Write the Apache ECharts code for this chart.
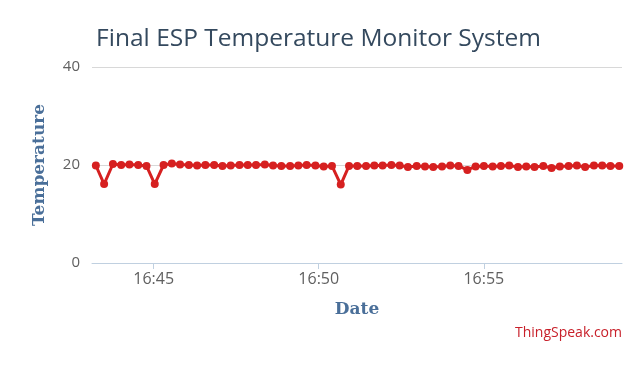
<!DOCTYPE html>
<html>
<head>
<meta charset="utf-8">
<script src="https://cdn.jsdelivr.net/npm/echarts@6/dist/echarts.min.js"></script>
<style>
  html, body { margin: 0; padding: 0; background: #fff; }
  #chart { width: 637px; height: 365px; }
</style>
</head>
<body>
<div id="chart"></div>
<script>
// readings (time of day, temperature)
var times = [
  '16:43:15', '16:43:30', '16:43:46', '16:44:01', '16:44:16', '16:44:32', '16:44:47', '16:45:02',
  '16:45:18', '16:45:33', '16:45:48', '16:46:04', '16:46:19', '16:46:34', '16:46:50', '16:47:05',
  '16:47:20', '16:47:36', '16:47:51', '16:48:06', '16:48:22', '16:48:37', '16:48:52', '16:49:08',
  '16:49:23', '16:49:38', '16:49:54', '16:50:09', '16:50:24', '16:50:40', '16:50:55', '16:51:10',
  '16:51:26', '16:51:41', '16:51:56', '16:52:12', '16:52:27', '16:52:42', '16:52:58', '16:53:13',
  '16:53:28', '16:53:44', '16:53:59', '16:54:14', '16:54:30', '16:54:45', '16:55:00', '16:55:16',
  '16:55:31', '16:55:46', '16:56:02', '16:56:17', '16:56:32', '16:56:48', '16:57:03', '16:57:18',
  '16:57:34', '16:57:49', '16:58:04', '16:58:20', '16:58:35', '16:58:50', '16:59:06'
];
var temps = [
  19.9, 16.1, 20.2, 20.0, 20.1, 20.0, 19.8, 16.1,
  20.0, 20.3, 20.1, 20.0, 19.9, 20.0, 20.0, 19.8,
  19.9, 20.0, 20.0, 20.0, 20.1, 19.9, 19.8, 19.8,
  19.9, 20.0, 19.9, 19.7, 19.8, 16.0, 19.8, 19.8,
  19.8, 19.9, 19.9, 20.0, 19.9, 19.6, 19.8, 19.7,
  19.6, 19.7, 19.9, 19.8, 19.0, 19.7, 19.8, 19.7,
  19.8, 19.9, 19.6, 19.7, 19.6, 19.8, 19.4, 19.7,
  19.8, 19.9, 19.6, 19.9, 19.9, 19.8, 19.8
];
var xStart = '16:43:08';
var xEnd = '16:59:11';
var xTicks = ['16:45:00', '16:50:00', '16:55:00'];
var yTicks = [0, 20, 40];

function toDate(t) {
  var p = t.split(':');
  return new Date(2018, 0, 1, +p[0], +p[1], +p[2]).getTime();
}

var points = times.map(function (t, i) { return [toDate(t), temps[i]]; });
var tickValues = xTicks.map(toDate);

var myChart = echarts.init(document.getElementById('chart'));
var option = {
  animation: false,
  backgroundColor: '#fff',
  title: {
    text: 'Final ESP Temperature Monitor System',
    left: 'center',
    top: 22,
    textStyle: {
      color: '#34495e',
      fontFamily: 'Open Sans',
      fontWeight: 'normal',
      fontSize: 24.5
    }
  },
  graphic: [{
    type: 'text',
    right: 15,
    top: 326,
    style: {
      text: 'ThingSpeak.com',
      fill: '#c8202a',
      font: '14px "Open Sans"'
    }
  }],
  grid: {
    left: 92,
    right: 15,
    top: 67,
    bottom: 102
  },
  xAxis: {
    type: 'value',
    min: toDate(xStart),
    max: toDate(xEnd),
    name: 'Date',
    nameLocation: 'middle',
    nameGap: 38,
    nameTextStyle: {
      color: '#4a6f99',
      fontFamily: 'DejaVu Serif',
      fontWeight: 'bold',
      fontSize: 17
    },
    axisLine: { lineStyle: { color: '#c0d0e0', width: 1 } },
    axisTick: { show: true, length: 6, customValues: tickValues, lineStyle: { color: '#c0d0e0' } },
    splitLine: { show: false },
    axisLabel: {
      color: '#606060',
      fontFamily: 'Open Sans',
      fontSize: 16,
      margin: 8,
      customValues: tickValues,
      formatter: function (v) { return echarts.time.format(v, '{HH}:{mm}', false); }
    }
  },
  yAxis: {
    type: 'value',
    min: yTicks[0],
    max: yTicks[yTicks.length - 1],
    interval: yTicks[1] - yTicks[0],
    name: 'Temperature',
    nameLocation: 'middle',
    nameGap: 44,
    nameRotate: 90,
    nameTextStyle: {
      color: '#4a6f99',
      fontFamily: 'DejaVu Serif',
      fontWeight: 'bold',
      fontSize: 17
    },
    axisLine: { show: false },
    axisTick: { show: false },
    splitLine: { lineStyle: { color: '#d8d8d8', width: 1 } },
    axisLabel: {
      color: '#606060',
      fontFamily: 'Open Sans',
      fontSize: 15,
      margin: 12
    }
  },
  series: [{
    type: 'line',
    data: points,
    symbol: 'circle',
    symbolSize: 8,
    itemStyle: { color: '#d62020' },
    lineStyle: { color: '#d62020', width: 3 }
  }]
};
myChart.setOption(option);
window.addEventListener('resize', function () {
  myChart.resize();
});
</script>
</body>
</html>
